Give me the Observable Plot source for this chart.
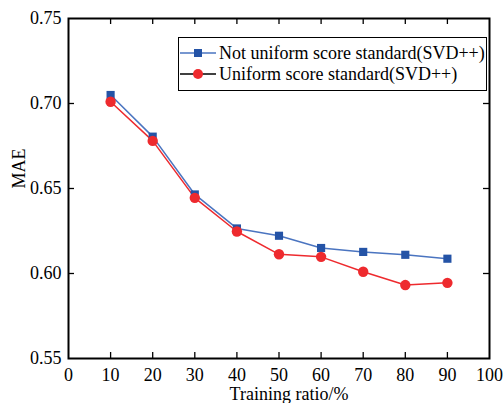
<!DOCTYPE html>
<html>
<head>
<meta charset="utf-8">
<script src="https://cdn.jsdelivr.net/npm/d3@7"></script>
<script src="https://cdn.jsdelivr.net/npm/@observablehq/plot@0.6"></script>
<style>
  html, body { margin: 0; padding: 0; background: #fff; }
  #wrap { position: relative; width: 504px; height: 403px; font-family: "Liberation Serif", "Times New Roman", serif; }
  #legend { position: absolute; left: 178px; top: 37px; width: 309px; height: 54px; border: 1.3px solid #000; background: #fff; box-sizing: border-box; font-size: 18px; color: #000; }
  .row { position: absolute; left: 0; height: 22px; display: flex; align-items: center; white-space: nowrap; }
  .row svg { margin-right: 2px; }
</style>
</head>
<body>
<div id="wrap"></div>
<script>
const ratios = [10, 20, 30, 40, 50, 60, 70, 80, 90];
const notUniform = [0.705, 0.6805, 0.6465, 0.6265, 0.6222, 0.615, 0.6127, 0.611, 0.6087];
const uniform = [0.701, 0.678, 0.6445, 0.6247, 0.6113, 0.6098, 0.601, 0.5932, 0.5945];
const seriesNames = ["Not uniform score standard(SVD++)", "Uniform score standard(SVD++)"];
const xTicks = [0, 10, 20, 30, 40, 50, 60, 70, 80, 90, 100];
const yTicks = [0.55, 0.60, 0.65, 0.70, 0.75];
const xLabel = "Training ratio/%";
const yLabel = "MAE";

const blue = "#2453a6", blueLine = "#4a74c0", red = "#ee2a2e";
const dA = ratios.map((r, i) => ({x: r, y: notUniform[i]}));
const dB = ratios.map((r, i) => ({x: r, y: uniform[i]}));

const W = 504, H = 403, mL = 68, mR = 15, mT = 18, mB = 45;
const fw = W - mL - mR, fh = H - mT - mB, tk = 6;

const chart = Plot.plot({
  width: W, height: H,
  marginLeft: mL, marginRight: mR, marginTop: mT, marginBottom: mB,
  style: {fontFamily: "Liberation Serif, Times New Roman, serif", fontSize: "18px", color: "#000", background: "#fff"},
  x: {domain: [0, 100]},
  y: {domain: [0.55, 0.75]},
  marks: [
    Plot.axisX(xTicks, {anchor: "bottom", tickSize: 0, tickPadding: 10, tickFormat: d => String(d), fontSize: 18, label: null}),
    Plot.axisY(yTicks, {anchor: "left", tickSize: 0, tickPadding: 7, tickFormat: d => d.toFixed(2), fontSize: 18, label: null}),
    Plot.tickX(xTicks.slice(1, -1), {x: d => d, insetTop: fh - tk, stroke: "#000", strokeWidth: 1.3}),
    Plot.tickX(xTicks.slice(1, -1), {x: d => d, insetBottom: fh - tk, stroke: "#000", strokeWidth: 1.3}),
    Plot.tickY(yTicks.slice(1, -1), {y: d => d, insetRight: fw - tk, stroke: "#000", strokeWidth: 1.3}),
    Plot.tickY(yTicks.slice(1, -1), {y: d => d, insetLeft: fw - tk, stroke: "#000", strokeWidth: 1.3}),
    Plot.frame({stroke: "#000", strokeWidth: 2}),
    Plot.line(dA, {x: "x", y: "y", stroke: blueLine, strokeWidth: 1.5}),
    Plot.line(dB, {x: "x", y: "y", stroke: red, strokeWidth: 1.5}),
    Plot.dot(dA, {x: "x", y: "y", symbol: "square", r: 4.6, fill: blue, stroke: "none"}),
    Plot.dot(dB, {x: "x", y: "y", symbol: "circle", r: 5.2, fill: red, stroke: "none"}),
    Plot.text([xLabel], {frameAnchor: "bottom", dy: 41, dx: 10, text: d => d, fontSize: 18, lineAnchor: "bottom"}),
    Plot.text([yLabel], {frameAnchor: "left", dx: -49, rotate: -90, text: d => d, fontSize: 18})
  ]
});

const wrap = document.getElementById("wrap");
wrap.appendChild(chart);

const legend = document.createElement("div");
legend.id = "legend";
const sw = (color, lineColor, shape) => {
  const m = shape === "square"
    ? `<rect x="15" y="7" width="8" height="8" fill="${color}"/>`
    : `<circle cx="19" cy="11" r="5" fill="${color}"/>`;
  return `<svg width="38" height="22"><line x1="1" x2="37" y1="11" y2="11" stroke="${lineColor}" stroke-width="1.5"/>${m}</svg>`;
};
legend.innerHTML =
  `<div class="row" style="top:4px">${sw(blue, blueLine, "square")}<span>${seriesNames[0]}</span></div>` +
  `<div class="row" style="top:25px">${sw(red, "#000", "circle")}<span>${seriesNames[1]}</span></div>`;
wrap.appendChild(legend);
</script>
</body>
</html>
